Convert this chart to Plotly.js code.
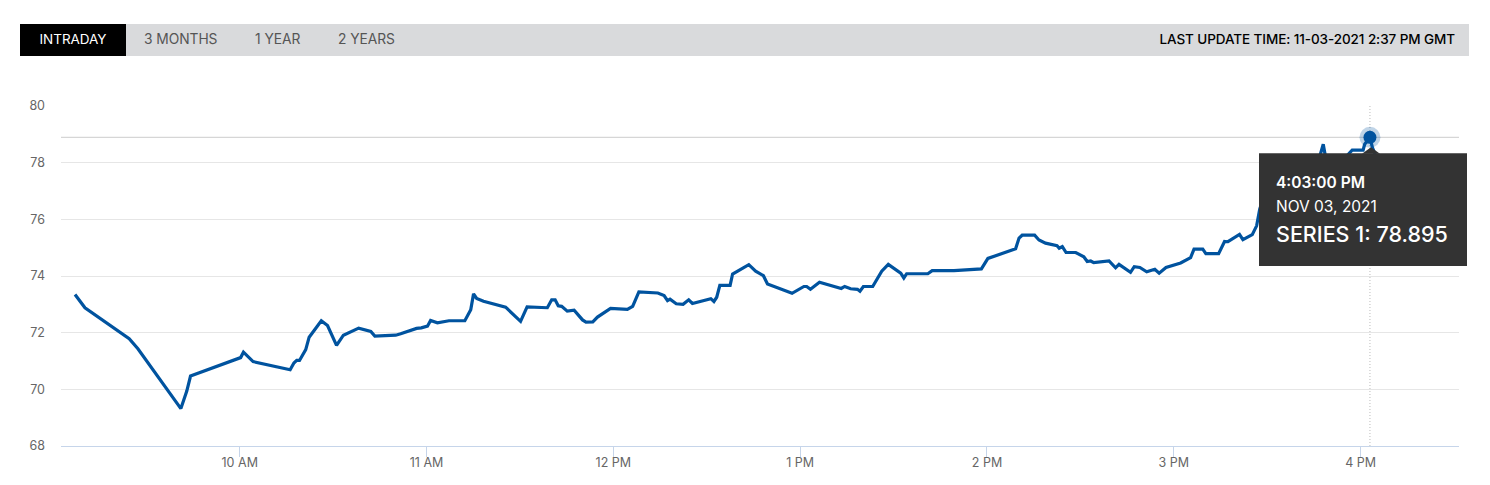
<!DOCTYPE html>
<html>
<head>
<meta charset="utf-8">
<script src="https://cdn.plot.ly/plotly-3.0.1.min.js"></script>
<style>
  body { margin: 0; background: #fff; font-family: Inter, sans-serif; }
  #myDiv { position: absolute; left: 0; top: 0; width: 1490px; height: 485px; }
  #bar { position: absolute; left: 20px; top: 24px; width: 1449px; height: 32px; background: #d9dadc; z-index: 2; }
  #bar span { position: absolute; top: 0; line-height: 31px; font-size: 13.8px; letter-spacing: -0.05px; color: #555; white-space: nowrap; }
  #bar span.on { left: 0; width: 106px; height: 32px; background: #000; color: #fff; text-align: center; font-size: 13.5px; }
  #bar span.upd { right: 14px; color: #000; font-weight: 500; font-size: 13.5px; letter-spacing: -0.08px; }
</style>
</head>
<body>
<div id="bar">
  <span class="on">INTRADAY</span>
  <span style="left:124px">3 MONTHS</span>
  <span style="left:235px">1 YEAR</span>
  <span style="left:318px">2 YEARS</span>
  <span class="upd">LAST UPDATE TIME: 11-03-2021 2:37 PM GMT</span>
</div>
<div id="myDiv"></div>
<script>
// minutes after 9 AM
let minutes = [7.1,10.3,24.5,27.3,41.1,43,44.2,60.3,61.2,64.3,76.2,77.4,78.3,79.2,81.2,82.3,86.2,88.2,91.1,93.3,
  98.2,102.1,103.4,110.1,111.7,116.8,118.3,120.3,121.3,123.5,127.2,132.3,134.2,135.1,136.1,138.3,145.4,150.2,152.3,158.8,
  160.2,161.3,162.3,163.4,165.2,167.4,170.1,171.2,173.4,174.9,179.1,182.4,184.5,186.2,188.2,194.3,196.3,197.4,198.2,200.2,
  202.4,204.2,205.4,211.3,212.3,213.2,214.2,217.5,218.3,223.5,225.7,228.2,229.5,237.4,241.2,242.1,243.3,246.2,253.2,254.3,
  256.2,258.4,259.2,260.3,263.3,266.2,268.3,272.3,273.3,274.2,281,282.4,289.4,298.2,300.3,309.2,310.3,311.3,315.3,316.7,
  318.8,322.5,323.2,324.2,325.4,328.5,331.1,332.2,333.3,334.3,339.2,341.3,342.4,346.1,347.3,349.1,351.3,353.9,355.3,357.5,
  362.2,365.4,366.5,369.3,370.3,374.4,376.3,377.4,381.1,382.2,385.2,386.6,387.6,389.5,394.3,400.7,405.9,408,408.9,415.2,
  417.3,419.4,420.8,421.3,423,423.8,425];
let prices = [73.35,72.88,71.79,71.43,69.32,69.94,70.47,71.12,71.31,70.98,70.69,70.93,71.02,71.02,71.4,71.84,72.42,72.25,71.55,71.91,
  72.16,72.04,71.88,71.91,71.96,72.15,72.17,72.23,72.43,72.35,72.42,72.42,72.81,73.37,73.21,73.11,72.9,72.4,72.91,72.88,
  73.16,73.16,72.95,72.93,72.76,72.79,72.45,72.37,72.38,72.55,72.86,72.85,72.82,72.93,73.44,73.4,73.31,73.13,73.18,73.02,
  73,73.16,73.03,73.2,73.1,73.25,73.67,73.67,74.07,74.4,74.17,74.01,73.72,73.39,73.63,73.63,73.53,73.78,73.56,73.63,
  73.55,73.53,73.46,73.63,73.63,74.17,74.41,74.1,73.93,74.08,74.08,74.19,74.19,74.25,74.62,74.96,75.34,75.44,75.44,75.27,
  75.16,75.07,74.98,75.04,74.83,74.83,74.68,74.51,74.53,74.47,74.53,74.29,74.41,74.13,74.33,74.3,74.15,74.24,74.1,74.3,
  74.46,74.65,74.95,74.95,74.79,74.79,75.22,75.21,75.47,75.28,75.46,75.77,76.36,77.01,77.43,77.64,77.85,78.65,78.1,78.2,
  78.44,78.44,78.44,78.65,78.895,78.53,78.2];
let yTicks = [68,70,72,74,76,78,80];
let hoverMinute = 423;
let hoverPrice = 78.895;
let tipLines = ['4:03:00 PM','NOV 03, 2021','SERIES 1: 78.895'];

//minutes after 9 AM to a date string for the axis
toStamp = (m) =>{
    var sec = Math.round(m*60) + 9*3600
    var pad = (n) => String(n).padStart(2,'0')
    return '2021-11-03 ' + pad(Math.floor(sec/3600)) + ':' + pad(Math.floor(sec/60)%60) + ':' + pad(sec%60)
}

let W = 1490, H = 485, L = 61, R = 1459, T = 105.6, B = 446.4;
//pixel position on the page to paper coordinates, only for the tooltip box
let px = (x) => (x-L)/(R-L);
let py = (y) => (B-y)/(B-T);

let tipText = (text, y, size, weight) => ({
    xref:'paper', yref:'paper', x:px(1273.5), y:py(y), xanchor:'left', yanchor:'middle',
    showarrow:false, text:text, font:{family:'Inter, sans-serif', size:size, color:'#fff', weight:weight}
});

var data = [
    {
        x: [toStamp(hoverMinute)], y: [hoverPrice], type:'scatter', mode:'markers', hoverinfo:'skip',
        marker:{size:21, color:'rgba(0,83,159,0.25)'}
    },
    {
        x: minutes.map(toStamp), y: prices, type:'scatter', mode:'lines', hoverinfo:'skip',
        line:{color:'#00539f', width:3.2}
    },
    {
        x: [toStamp(hoverMinute)], y: [hoverPrice], type:'scatter', mode:'markers', hoverinfo:'skip',
        marker:{size:13, color:'#00539f'}
    }
];

var layout = {
    width:W, height:H, showlegend:false,
    margin:{l:L, r:W-R, t:T, b:H-B},
    paper_bgcolor:'rgba(0,0,0,0)', plot_bgcolor:'rgba(0,0,0,0)',
    font:{family:'Inter, sans-serif', size:12.5, color:'#666'},
    xaxis:{
        type:'date', range:[toStamp(2.6), toStamp(451.6)], dtick:3600000, tick0:'2021-11-03 10:00:00',
        tickformat:'%-I %p', showgrid:false, zeroline:false,
        showline:true, linecolor:'#c6d5ea', linewidth:1,
        ticks:'outside', ticklen:10, tickcolor:'#c6d5ea', tickwidth:1, ticklabelstandoff:-5
    },
    yaxis:{
        range:[68,80], tickvals:yTicks, ticktext:yTicks.map(String), showgrid:true, gridcolor:'#e6e6e6', gridwidth:1,
        zeroline:false, showline:false, ticks:'', ticklabelstandoff:15
    },
    shapes:[
        //crosshair
        {type:'line', xref:'paper', x0:0, x1:1, yref:'y', y0:hoverPrice, y1:hoverPrice, line:{color:'#ccc', width:1}, layer:'below'},
        {type:'line', xref:'x', x0:toStamp(hoverMinute), x1:toStamp(hoverMinute), yref:'paper', y0:0, y1:1, line:{color:'#bbb', width:1, dash:'1px,2px'}, layer:'below'},
        //tooltip box and its pointer
        {type:'rect', xref:'paper', yref:'paper', x0:px(1259), x1:px(1467), y0:py(266), y1:py(153), fillcolor:'#333', line:{width:0}, layer:'above'},
        {type:'path', xref:'paper', yref:'paper', path:'M '+px(1362)+' '+py(153.5)+' L '+px(1371)+' '+py(147)+' L '+px(1380)+' '+py(153.5)+' Z', fillcolor:'#333', line:{width:0}, layer:'above'}
    ],
    annotations:[
        tipText(tipLines[0], 182, 15.5, 600),
        tipText(tipLines[1], 206, 15.5, 400),
        tipText(tipLines[2], 233.5, 21.5, 500)
    ]
};

Plotly.newPlot('myDiv', data, layout, {displayModeBar:false, staticPlot:true});
</script>
</body>
</html>
